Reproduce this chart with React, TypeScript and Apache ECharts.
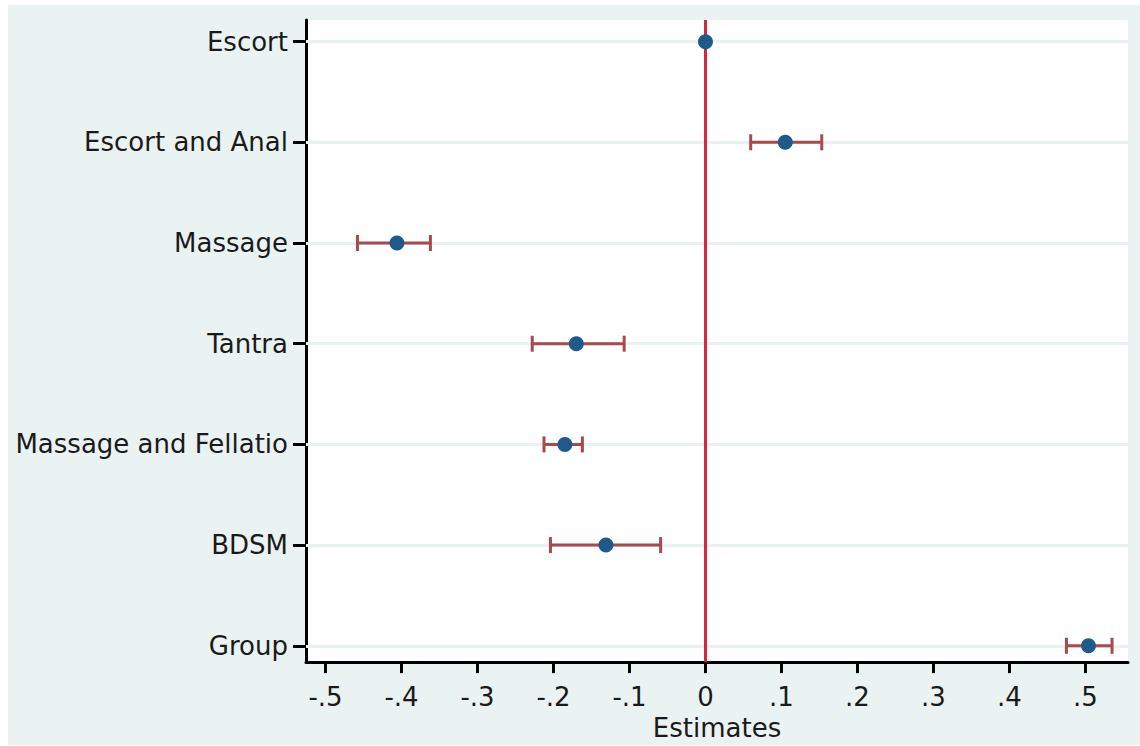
import React, { useEffect, useRef } from "react";
import * as echarts from "echarts";

const categories = ["Escort", "Escort and Anal", "Massage", "Tantra", "Massage and Fellatio", "BDSM", "Group"];
const estimates = [0, 0.105, -0.406, -0.17, -0.185, -0.131, 0.504];
const lower: (number | null)[] = [null, 0.0595, -0.458, -0.228, -0.2125, -0.204, 0.475];
const upper: (number | null)[] = [null, 0.153, -0.362, -0.107, -0.162, -0.059, 0.535];
const xTicks = [-0.5, -0.4, -0.3, -0.2, -0.1, 0, 0.1, 0.2, 0.3, 0.4, 0.5];
const yTicks = [1, 2, 3, 4, 5, 6, 7];

const FONT = "DejaVu Sans";

function fmtX(v: number): string {
  if (Math.abs(v) < 1e-9) return "0";
  return (v < 0 ? "-" : "") + "." + Math.round(Math.abs(v) * 10);
}

export default function App() {
  const ref = useRef<HTMLDivElement>(null);
  useEffect(() => {
    if (!ref.current) return;
    const chart = echarts.init(ref.current, null, { renderer: "svg" });
    const ciData = categories
      .map((_, i) => [lower[i], upper[i], i + 1])
      .filter((d) => d[0] !== null && d[1] !== null);
    chart.setOption({
      animation: false,
      backgroundColor: "#ffffff",
      graphic: [
        {
          type: "rect",
          z: -10,
          silent: true,
          shape: { x: 8, y: 5, width: 1132, height: 740 },
          style: { fill: "#eaf2f2" },
        },
      ],
      grid: {
        left: 306,
        right: 12,
        top: 20,
        bottom: 83,
        show: true,
        backgroundColor: "#ffffff",
        borderWidth: 0,
      },
      xAxis: {
        type: "value",
        min: -0.5257,
        max: 0.556,
        name: "Estimates",
        nameLocation: "middle",
        nameGap: 47,
        nameTextStyle: { fontFamily: FONT, fontSize: 26, color: "#1a1a1a" },
        axisLine: { show: true, onZero: false, lineStyle: { color: "#000", width: 3 } },
        axisTick: { show: true, length: 11, customValues: xTicks, lineStyle: { color: "#000", width: 3 } },
        axisLabel: {
          customValues: xTicks,
          formatter: (v: number) => fmtX(v),
          fontFamily: FONT,
          fontSize: 26,
          color: "#1a1a1a",
          margin: 22,
        },
        splitLine: { show: false },
      },
      yAxis: {
        type: "value",
        inverse: true,
        min: 0.785,
        max: 7.162,
        axisLine: { show: true, onZero: false, lineStyle: { color: "#000", width: 3 } },
        axisTick: { show: true, length: 13, customValues: yTicks, lineStyle: { color: "#000", width: 3 } },
        axisLabel: {
          customValues: yTicks,
          formatter: (v: number) => categories[Math.round(v) - 1] ?? "",
          fontFamily: FONT,
          fontSize: 26,
          color: "#1a1a1a",
          margin: 18,
        },
        splitLine: { show: false },
      },
      series: [
        {
          type: "line",
          data: [],
          z: 1,
          silent: true,
          markLine: {
            z: 1,
            silent: true,
            symbol: "none",
            label: { show: false },
            emphasis: { disabled: true },
            lineStyle: { color: "#e9f1f1", width: 3, type: "solid" },
            data: yTicks.map((v) => ({ yAxis: v })),
          },
        },
        {
          type: "line",
          data: [],
          z: 3,
          silent: true,
          markLine: {
            z: 3,
            silent: true,
            symbol: "none",
            label: { show: false },
            emphasis: { disabled: true },
            lineStyle: { color: "#d7263d", width: 3, type: "solid" },
            data: [{ xAxis: 0 }],
          },
        },
        {
          type: "custom",
          z: 4,
          silent: true,
          data: ciData,
          encode: { x: [0, 1], y: 2 },
          renderItem: (params: any, api: any) => {
            const lo = api.value(0);
            const hi = api.value(1);
            const y = api.value(2);
            const p1 = api.coord([lo, y]);
            const p2 = api.coord([hi, y]);
            const h = 8;
            const style = { stroke: "#a9494b", lineWidth: 3 };
            return {
              type: "group",
              children: [
                { type: "line", shape: { x1: p1[0], y1: p1[1], x2: p2[0], y2: p2[1] }, style },
                { type: "line", shape: { x1: p1[0], y1: p1[1] - h, x2: p1[0], y2: p1[1] + h }, style },
                { type: "line", shape: { x1: p2[0], y1: p2[1] - h, x2: p2[0], y2: p2[1] + h }, style },
              ],
            };
          },
        },
        {
          type: "scatter",
          z: 6,
          symbol: "circle",
          symbolSize: 15,
          itemStyle: { color: "#1e5a8a", opacity: 1 },
          data: estimates.map((v, i) => [v, i + 1]),
        },
      ],
    });
    return () => chart.dispose();
  }, []);
  return (
    <div
      ref={ref}
      style={{ position: "absolute", left: 0, top: 0, width: 1140, height: 746 }}
    />
  );
}
